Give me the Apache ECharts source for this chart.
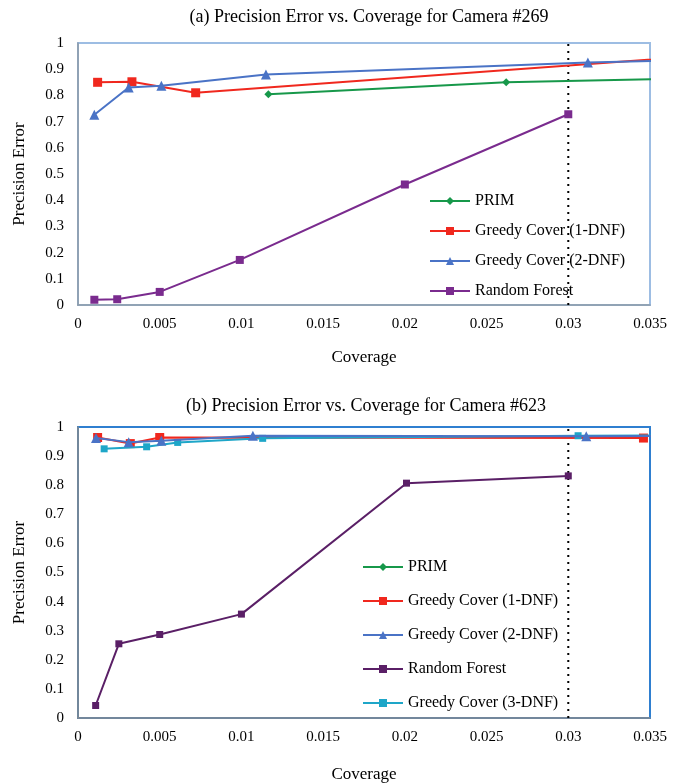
<!DOCTYPE html>
<html><head><meta charset="utf-8">
<script src="https://cdn.jsdelivr.net/npm/echarts@6/dist/echarts.min.js"></script>
<style>html,body{margin:0;padding:0;background:#fff}#c{width:682px;height:784px}</style>
</head><body><div id="c"></div>
<script>
// ---- data: chart (a) Camera #269 ----
var a_prim = [[0.01165, 0.804], [0.0262, 0.85], [0.038, 0.865]];
var a_greedy1 = [[0.0012, 0.85], [0.0033, 0.852], [0.0072, 0.81], [0.038, 0.95]];
var a_greedy2 = [[0.0010, 0.726], [0.0031, 0.83], [0.0051, 0.837], [0.0115, 0.88], [0.0312, 0.926], [0.038, 0.935]];
var a_rf = [[0.0010, 0.02], [0.0024, 0.022], [0.0050, 0.05], [0.0099, 0.172], [0.0200, 0.46], [0.0300, 0.728]];
// ---- data: chart (b) Camera #623 ----
var b_prim = [];
var b_greedy1 = [[0.0012, 0.964], [0.0032, 0.943], [0.0050, 0.964], [0.0346, 0.962]];
var b_greedy2 = [[0.0011, 0.962], [0.0031, 0.948], [0.0051, 0.953], [0.0107, 0.970], [0.0311, 0.968], [0.038, 0.97]];
var b_rf = [[0.00108, 0.043], [0.0025, 0.255], [0.0050, 0.287], [0.0100, 0.357], [0.0201, 0.807], [0.0300, 0.832]];
var b_greedy3 = [[0.0016, 0.925], [0.0042, 0.932], [0.0061, 0.947], [0.0113, 0.961], [0.0306, 0.970], [0.038, 0.972]];
var cutoff = [[0.03, 0], [0.03, 1]];
var names = ['PRIM', 'Greedy Cover (1-DNF)', 'Greedy Cover (2-DNF)', 'Random Forest', 'Greedy Cover (3-DNF)'];
var titleA = '(a) Precision Error vs. Coverage for Camera #269';
var titleB = '(b) Precision Error vs. Coverage for Camera #623';

var FONT = '"Liberation Serif", "DejaVu Serif", serif';
var C = {prim:'#17984a', g1:'#f0281e', g2:'#4a73c6', rfA:'#7a2b8e', rfB:'#5a1f66', g3:'#1ea6c8'};

function xAxis(gi, axisColor, gap){
  return {type:'value', gridIndex:gi, min:0, max:0.035, interval:0.005,
    name:'Coverage', nameLocation:'middle', nameGap:gap,
    nameTextStyle:{fontFamily:FONT, fontSize:17, color:'#000'},
    axisLine:{show:true, lineStyle:{color:axisColor, width:1.5}}, axisTick:{show:false},
    splitLine:{show:false},
    axisLabel:{fontFamily:FONT, fontSize:15, color:'#000', margin:12,
      formatter:function(v){return String(parseFloat(v.toFixed(3)));}}};
}
function yAxis(gi, axisColor){
  return {type:'value', gridIndex:gi, min:0, max:1, interval:0.1,
    name:'Precision Error', nameLocation:'middle', nameGap:50,
    nameTextStyle:{fontFamily:FONT, fontSize:17, color:'#000'},
    axisLine:{show:true, lineStyle:{color:axisColor, width:1.5}}, axisTick:{show:false},
    splitLine:{show:false},
    axisLabel:{fontFamily:FONT, fontSize:15, color:'#000', margin:14,
      formatter:function(v){return String(parseFloat(v.toFixed(1)));}}};
}
function ser(name, data, gi, color, symbol, size, z){
  return {type:'line', name:name, data:data, xAxisIndex:gi, yAxisIndex:gi,
    symbol:symbol, symbolSize:size, showAllSymbol:true, clip:true, z:z||2,
    lineStyle:{color:color, width:2}, itemStyle:{color:color}, emphasis:{disabled:true}};
}
function cut(gi){
  return {type:'line', data:cutoff, xAxisIndex:gi, yAxisIndex:gi, symbol:'none', z:1,
    lineStyle:{color:'#000', width:2, type:[2,5]}, silent:true};
}

var legendText = {fontFamily:FONT, fontSize:16, color:'#000'};
var option = {
  animation:false,
  backgroundColor:'#fff',
  title:[
    {text:titleA, left:364, top:3, textAlign:'center', textStyle:{fontFamily:FONT, fontSize:18, fontWeight:'normal', color:'#000'}},
    {text:titleB, left:361, top:392, textAlign:'center', textStyle:{fontFamily:FONT, fontSize:18, fontWeight:'normal', color:'#000'}}
  ],
  grid:[
    {left:78, top:43, width:572, height:262, show:true, borderColor:'#9dbde3', borderWidth:2, backgroundColor:'transparent'},
    {left:78, top:427, width:572, height:295, show:true, borderColor:'#2f7fd0', borderWidth:2, backgroundColor:'transparent'}
  ],
  xAxis:[xAxis(0,'#8d9aa6',44), xAxis(1,'#8a8a8a',48)],
  yAxis:[yAxis(0,'#8d9aa6'), yAxis(1,'#8a8a8a')],
  legend:[
    {left:424, top:188, orient:'vertical', itemGap:14, itemWidth:40, itemHeight:10,
     textStyle:legendText, data:names.slice(0,4)},
    {left:357, top:554, orient:'vertical', itemGap:18, itemWidth:40, itemHeight:10,
     textStyle:legendText, data:names.map(function(n){ return {name:n+' '}; })}
  ],
  series:[
    cut(0),
    ser(names[0], a_prim, 0, C.prim, 'diamond', 8, 3),
    ser(names[1], a_greedy1, 0, C.g1, 'rect', 9, 4),
    ser(names[2], a_greedy2, 0, C.g2, 'triangle', 10, 5),
    ser(names[3], a_rf, 0, C.rfA, 'rect', 8, 6),
    cut(1),
    ser(names[0]+' ', b_prim, 1, C.prim, 'diamond', 8, 3),
    ser(names[1]+' ', b_greedy1, 1, C.g1, 'rect', 9, 4),
    ser(names[4]+' ', b_greedy3, 1, C.g3, 'rect', 7, 5),
    ser(names[2]+' ', b_greedy2, 1, C.g2, 'triangle', 10, 6),
    ser(names[3]+' ', b_rf, 1, C.rfB, 'rect', 7, 7)
  ]
};
var chart = echarts.init(document.getElementById('c'), null, {renderer:'canvas'});
chart.setOption(option);
</script></body></html>
